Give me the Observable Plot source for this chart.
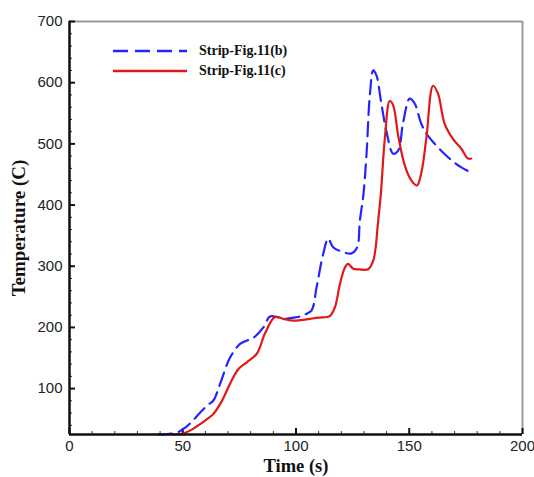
<!DOCTYPE html>
<html><head><meta charset="utf-8">
<script src="https://cdn.jsdelivr.net/npm/d3@7"></script>
<script src="https://cdn.jsdelivr.net/npm/@observablehq/plot@0.6"></script>
<style>
body{margin:0;background:#fff;}
#wrap{position:relative;width:534px;height:477px;}
.legend{position:absolute;left:112px;top:41px;font:bold 14px "Liberation Serif","Times New Roman",serif;color:#111;}
.row{display:flex;align-items:center;height:20px;}
.row svg{margin-right:11px;}
</style></head><body><div id="wrap"></div>
<script>
// Series (b): blue dashed
const bTime=[39,44,48,51,54,57.7,61,63.6,66.5,70.9,75.3,78,81.2,85.6,88.5,91.5,94.4,98.8,102,104.5,106.9,109.1,112,114.2,116.4,120.1,124.5,127,128.2,129.7,131.1,132.6,134.1,135.5,137.8,140,142.9,145.1,147.3,150.2,152.4,155.4,158.3,164.9,170.8,176.7];
const bTemp=[25,26,29,36,46,61,73,81,108,151,173,178,183,200,218,217,214,216,218,222,228,266,320,345,331,324,321,331,375,415,481,579,620,612,563,519,484,489,535,574,566,532,513,486,467,454];
// Series (c): red solid
const cTime=[46,50.4,54,57.7,61,63.6,67.3,70.9,74.6,78.3,82.7,86.3,90.7,94.4,98.8,102,106,110,115,117.2,119.4,121.6,123,125.2,128,131.8,134.1,136.3,137.5,139.2,141.4,142.9,145.1,148,151,153.4,155.4,157.6,160.5,162.7,165.6,169.3,173,175.9,177.4];
const cTemp=[25,27,33,42,51,59,80,108,132,143,157,190,217,214,211,212,214,216,219,233,271,298,304,296,295,295,309,375,420,508,570,563,514,465,440,432,454,511,595,582,533,508,492,476,476];
const seriesNames=["Strip-Fig.11(b)","Strip-Fig.11(c)"];
const xTicks=[0,50,100,150,200];
const yTicks=[100,200,300,400,500,600,700];
const xMinor=d3.range(0,201,10);
const yMinor=d3.range(40,701,20);
const xDomain=[0,200], yDomain=[25,700];
const colors=["#2424ff","#e01818"];

const bData=bTime.map((t,i)=>({t,v:bTemp[i]}));
const cData=cTime.map((t,i)=>({t,v:cTemp[i]}));
const serif='"Liberation Serif","Times New Roman",serif';

const chart=Plot.plot({
  width:534,height:477,marginLeft:69,marginRight:12,marginTop:21,marginBottom:43,
  x:{domain:xDomain},y:{domain:yDomain},
  style:{fontFamily:'"Liberation Sans",Arial,sans-serif',fontSize:"15px",color:"#222",background:"#fff",overflow:"visible"},
  marks:[
    Plot.ruleY([yDomain[1]],{stroke:"#999",strokeWidth:2}),
    Plot.ruleX([xDomain[1]],{stroke:"#999",strokeWidth:2}),
    Plot.axisX(xMinor,{tickSize:-3,text:null,label:null,strokeWidth:1,stroke:"#333"}),
    Plot.axisX(xTicks,{tickSize:-6,text:null,label:null,strokeWidth:2,stroke:"#111"}),
    Plot.axisX(xTicks,{tickSize:0,tickPadding:6,label:null,fill:"#222",fontSize:15}),
    Plot.axisY(yMinor,{tickSize:-3,text:null,label:null,strokeWidth:1,stroke:"#333"}),
    Plot.axisY(yTicks,{tickSize:-6,text:null,label:null,strokeWidth:2,stroke:"#111"}),
    Plot.axisY(yTicks,{tickSize:0,tickPadding:7,label:null,fill:"#222",fontSize:15}),
    Plot.line(bData,{x:"t",y:"v",stroke:colors[0],strokeWidth:2.2,strokeDasharray:"14,7",curve:"catmull-rom"}),
    Plot.line(cData,{x:"t",y:"v",stroke:colors[1],strokeWidth:2.2,curve:"catmull-rom"}),
    Plot.ruleX([xDomain[0]],{stroke:"#111",strokeWidth:2.5}),
    Plot.ruleY([yDomain[0]],{stroke:"#111",strokeWidth:2.5}),
    Plot.text(["Time (s)"],{frameAnchor:"bottom",dy:32,lineAnchor:"middle",textAnchor:"middle",fontFamily:serif,fontWeight:"bold",fontSize:18.5,fill:"#111"}),
    Plot.text(["Temperature (C)"],{frameAnchor:"left",dx:-51,rotate:-90,lineAnchor:"middle",textAnchor:"middle",fontFamily:serif,fontWeight:"bold",fontSize:19,fill:"#111"})
  ]
});
const wrap=document.getElementById("wrap");
wrap.appendChild(chart);
const leg=document.createElement("div");
leg.className="legend";
seriesNames.forEach((name,i)=>{
  const row=document.createElement("div");row.className="row";
  row.innerHTML=`<svg width="76" height="6"><line x1="1" y1="3" x2="75" y2="3" stroke="${colors[i]}" stroke-width="2.4" ${i===0?'stroke-dasharray="15,7"':''}/></svg><span>${name}</span>`;
  leg.appendChild(row);
});
wrap.appendChild(leg);
</script></body></html>
